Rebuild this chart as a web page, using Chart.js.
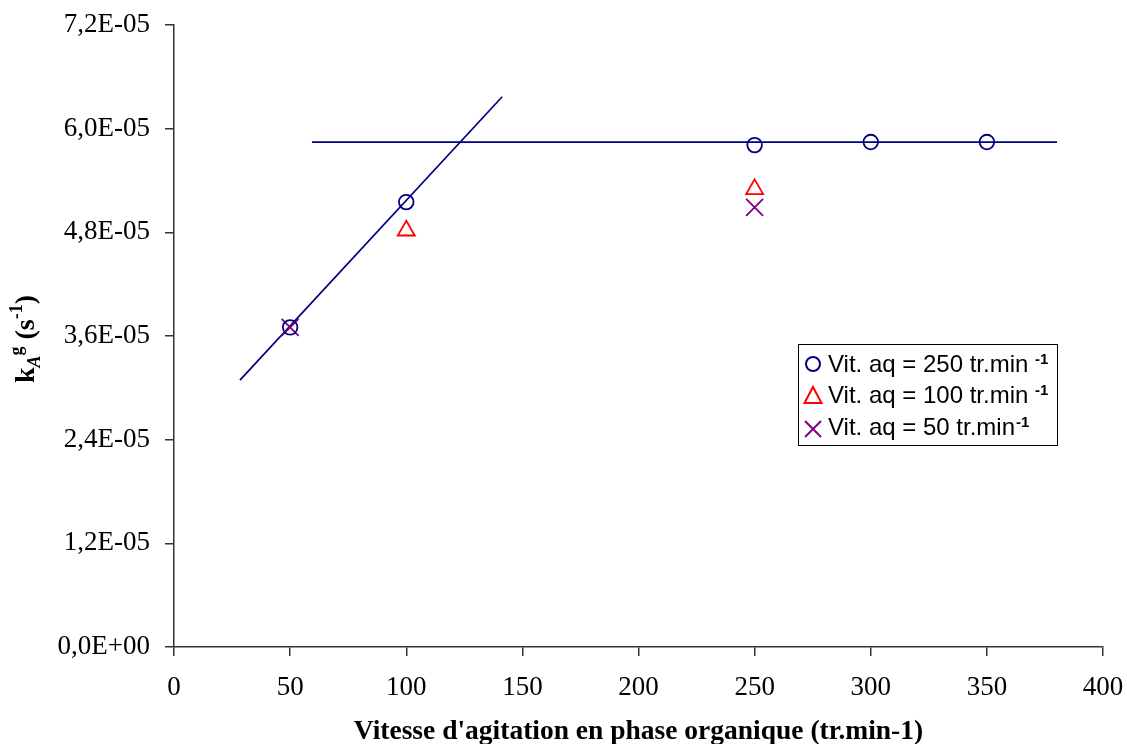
<!DOCTYPE html>
<html>
<head>
<meta charset="utf-8">
<script src="https://cdn.jsdelivr.net/npm/chart.js@4.4.0/dist/chart.umd.min.js"></script>
<style>
  html, body { margin: 0; padding: 0; background: #ffffff; }
  #wrap { width: 1127px; height: 744px; position: relative; }
</style>
</head>
<body>
<div id="wrap"><canvas id="c" width="1127" height="744"></canvas></div>
<script>
// ---- data ----
const xTickValues = [0, 50, 100, 150, 200, 250, 300, 350, 400];
const yTickValues = [0, 1.2e-5, 2.4e-5, 3.6e-5, 4.8e-5, 6.0e-5, 7.2e-5];
const yTickLabels = ['0,0E+00', '1,2E-05', '2,4E-05', '3,6E-05', '4,8E-05', '6,0E-05', '7,2E-05'];

const xAq250 = [50, 100, 250, 300, 350];
const kAq250 = [3.70e-5, 5.15e-5, 5.81e-5, 5.845e-5, 5.845e-5];

const xAq100 = [100, 250];
const kAq100 = [4.82e-5, 5.30e-5];

const xAq50 = [50, 250];
const kAq50 = [3.70e-5, 5.09e-5];

const riseLineX = [28.4, 141.3];
const riseLineY = [3.09e-5, 6.37e-5];
const plateauLineX = [59.4, 380.2];
const plateauLineY = [5.845e-5, 5.845e-5];

const legendLabels = ['Vit. aq = 250 tr.min', 'Vit. aq = 100 tr.min', 'Vit. aq = 50 tr.min'];

const xTitle = "Vitesse d'agitation en phase organique (tr.min-1)";

// ---- helpers ----
const pts = (xs, ys) => xs.map((x, i) => ({ x: x, y: ys[i] }));
const NAVY = '#000080', RED = '#FF0000', PURPLE = '#800080', AXIS = '#333333';
const SERIF = '"Liberation Serif", "Times New Roman", serif';
const SANS = '"Liberation Sans", Arial, sans-serif';

const zeroPad = (s) => { s.paddingLeft = 0; s.paddingRight = 0; s.paddingTop = 0; s.paddingBottom = 0; };

const yTitlePlugin = {
  id: 'yTitle',
  afterDraw(chart) {
    const ctx = chart.ctx;
    ctx.save();
    ctx.translate(34, 339);
    ctx.rotate(-Math.PI / 2);
    ctx.fillStyle = '#000';
    ctx.textBaseline = 'alphabetic';
    const parts = [
      { t: 'k', f: 'bold 28px ' + SERIF, dy: 0 },
      { t: 'A', f: 'bold italic 18px ' + SERIF, dy: 6 },
      { t: 'g', f: 'bold 18px ' + SERIF, dy: -12 },
      { t: ' (s', f: 'bold 28px ' + SERIF, dy: 0 },
      { t: '-1', f: 'bold 18px ' + SERIF, dy: -12 },
      { t: ')', f: 'bold 28px ' + SERIF, dy: 0 }
    ];
    let total = 0;
    parts.forEach(p => { ctx.font = p.f; p.w = ctx.measureText(p.t).width; total += p.w; });
    let x = -total / 2;
    parts.forEach(p => { ctx.font = p.f; ctx.fillText(p.t, x, p.dy); x += p.w; });
    ctx.restore();
  }
};

const legendPlugin = {
  id: 'customLegend',
  afterDraw(chart) {
    const ctx = chart.ctx;
    ctx.save();
    const bx = 798.5, by = 344.5, bw = 259, bh = 101;
    ctx.fillStyle = '#fff';
    ctx.fillRect(bx, by, bw, bh);
    ctx.strokeStyle = '#000';
    ctx.lineWidth = 1;
    ctx.strokeRect(bx, by, bw, bh);
    const rows = [372, 403, 435];
    const mx = 813;
    // circle
    ctx.lineWidth = 2;
    ctx.strokeStyle = NAVY;
    ctx.beginPath(); ctx.arc(mx, 364, 7, 0, Math.PI * 2); ctx.stroke();
    // triangle
    ctx.strokeStyle = RED;
    ctx.beginPath();
    ctx.moveTo(mx, 387); ctx.lineTo(mx + 8.5, 403); ctx.lineTo(mx - 8.5, 403); ctx.closePath();
    ctx.stroke();
    // cross
    ctx.strokeStyle = PURPLE;
    ctx.beginPath();
    ctx.moveTo(mx - 8, 421); ctx.lineTo(mx + 8, 437);
    ctx.moveTo(mx + 8, 421); ctx.lineTo(mx - 8, 437);
    ctx.stroke();
    // text
    ctx.fillStyle = '#000';
    ctx.textBaseline = 'alphabetic';
    legendLabels.forEach((t, i) => {
      ctx.font = '24px ' + SANS;
      const w = ctx.measureText(t).width;
      ctx.fillText(t, 828, rows[i]);
      const gap = i < 2 ? ctx.measureText(' ').width : 1;
      ctx.font = 'bold 15px ' + SANS;
      ctx.fillText('-1', 828 + w + gap, rows[i] - 8);
    });
    ctx.restore();
  }
};

const bgPlugin = {
  id: 'bg',
  beforeDraw(chart) {
    const ctx = chart.ctx;
    ctx.save();
    ctx.fillStyle = '#fff';
    ctx.fillRect(0, 0, chart.width, chart.height);
    ctx.restore();
  }
};

new Chart(document.getElementById('c'), {
  type: 'scatter',
  data: {
    datasets: [
      { label: 'rise', type: 'line', data: pts(riseLineX, riseLineY), borderColor: NAVY, borderWidth: 1.7,
        pointRadius: 0, fill: false, tension: 0, order: 5 },
      { label: 'plateau', type: 'line', data: pts(plateauLineX, plateauLineY), borderColor: NAVY, borderWidth: 1.7,
        pointRadius: 0, fill: false, tension: 0, order: 5 },
      { label: legendLabels[0], data: pts(xAq250, kAq250), pointStyle: 'circle', pointRadius: 7.3,
        borderColor: NAVY, backgroundColor: 'rgba(0,0,0,0)', borderWidth: 1.8, order: 1 },
      { label: legendLabels[1], data: pts(xAq100, kAq100), pointStyle: 'triangle', pointRadius: 9.8,
        borderColor: RED, backgroundColor: 'rgba(0,0,0,0)', borderWidth: 1.8, order: 2 },
      { label: legendLabels[2], data: pts(xAq50, kAq50), pointStyle: 'crossRot', pointRadius: 12,
        borderColor: PURPLE, backgroundColor: 'rgba(0,0,0,0)', borderWidth: 1.8, order: 3 }
    ]
  },
  options: {
    responsive: false,
    animation: false,
    devicePixelRatio: 1,
    layout: { padding: { top: 25, right: 24, left: 0, bottom: 0 } },
    plugins: {
      legend: { display: false },
      tooltip: { enabled: false }
    },
    scales: {
      x: {
        type: 'linear', min: 0, max: 400,
        afterBuildTicks: (s) => { s.ticks = xTickValues.map(v => ({ value: v })); },
        afterFit: (s) => { s.height = 97; zeroPad(s); },
        grid: { drawOnChartArea: false, drawTicks: true, tickLength: 9, color: AXIS, lineWidth: 1.5 },
        border: { display: true, color: AXIS, width: 1.5 },
        ticks: { color: '#000', font: { family: SERIF, size: 27 }, padding: 16, maxRotation: 0,
                 callback: (v) => String(v) },
        title: { display: true, text: xTitle, color: '#000',
                 font: { family: SERIF, size: 27.5, weight: 'bold' }, padding: { top: 0, bottom: -4 } }
      },
      y: {
        type: 'linear', min: 0, max: 7.2e-5,
        afterBuildTicks: (s) => { s.ticks = yTickValues.map(v => ({ value: v })); },
        afterFit: (s) => { s.width = 174; zeroPad(s); },
        grid: { drawOnChartArea: false, drawTicks: true, tickLength: 9, color: AXIS, lineWidth: 1.5 },
        border: { display: true, color: AXIS, width: 1.5 },
        ticks: { color: '#000', font: { family: SERIF, size: 27 }, padding: 15,
                 callback: (v, i) => yTickLabels[i] }
      }
    }
  },
  plugins: [bgPlugin, yTitlePlugin, legendPlugin]
});
</script>
</body>
</html>
